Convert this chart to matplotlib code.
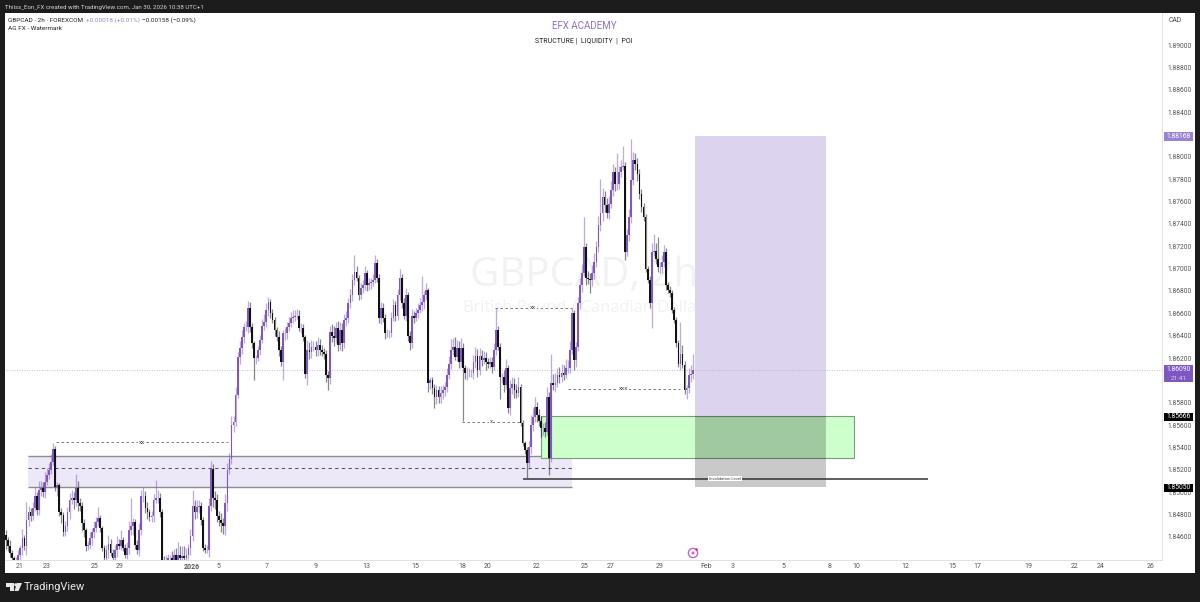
import numpy as np
import matplotlib
matplotlib.use("Agg")
import matplotlib.pyplot as plt
from matplotlib.patches import Rectangle, Polygon, Ellipse

plt.rcParams['font.family'] = ['Roboto', 'DejaVu Sans']

W, H = 1200, 602
PURPLE = '#7e57c2'
BLACK = '#111111'
DARK = '#1c1c1c'

# 2h closes in 1e-4 price units, one row = 12 bars
closes = [
    18457,18452,18446,18441,18437,18439,18444,18450,18459,18452,18475,18482,
    18479,18486,18497,18484,18502,18504,18500,18509,18515,18520,18527,18539,
    18505,18506,18482,18480,18464,18470,18482,18493,18495,18493,18504,18490,
    18488,18472,18466,18452,18453,18459,18464,18468,18473,18477,18468,18450,
    18441,18448,18454,18446,18441,18448,18454,18452,18457,18450,18444,18450,
    18466,18470,18473,18453,18448,18466,18497,18497,18486,18482,18478,18479,
    18493,18495,18495,18482,18439,18437,18439,18441,18441,18439,18444,18439,
    18444,18441,18443,18441,18444,18450,18461,18488,18482,18487,18488,18475,
    18450,18448,18448,18488,18521,18495,18493,18479,18475,18472,18470,18490,
    18520,18530,18560,18563,18587,18621,18629,18639,18648,18648,18665,18648,
    18633,18620,18620,18627,18636,18649,18652,18663,18670,18660,18654,18645,
    18639,18627,18616,18642,18642,18648,18651,18656,18657,18658,18658,18647,
    18647,18639,18606,18627,18625,18630,18630,18627,18632,18627,18625,18624,
    18605,18602,18643,18640,18638,18647,18632,18645,18633,18654,18656,18669,
    18676,18690,18697,18692,18676,18683,18685,18696,18685,18687,18688,18690,
    18705,18692,18656,18665,18656,18642,18642,18642,18656,18667,18658,18676,
    18692,18669,18658,18676,18640,18633,18658,18656,18660,18663,18667,18670,
    18676,18681,18598,18600,18593,18585,18591,18585,18589,18591,18594,18605,
    18615,18627,18630,18621,18629,18616,18629,18611,18607,18607,18607,18607,
    18616,18622,18609,18622,18618,18620,18616,18615,18616,18612,18627,18645,
    18630,18603,18603,18596,18611,18575,18593,18597,18591,18589,18594,18562,
    18544,18538,18526,18540,18560,18567,18576,18569,18564,18557,18557,18554,
    18585,18531,18598,18596,18598,18605,18603,18607,18605,18611,18611,18627,
    18660,18618,18630,18669,18685,18696,18719,18692,18691,18690,18696,18706,
    18719,18739,18750,18764,18757,18750,18758,18770,18786,18776,18776,18786,
    18791,18792,18715,18730,18746,18779,18797,18794,18785,18767,18755,18746,
    18700,18690,18669,18715,18716,18709,18701,18701,18706,18715,18685,18681,
    18678,18663,18654,18633,18615,18624,18614,18591,18593,18605,18606,18609,
]
upper_wick = [
    4,3,5,2,2,3,4,3,8,3,16,6,
    4,5,8,3,8,6,5,9,7,6,7,5,
    2,3,2,4,2,4,5,6,7,5,12,6,
    5,3,4,2,3,5,4,6,5,10,3,2,
    3,5,8,4,3,5,7,4,9,3,4,5,
    8,25,4,3,4,6,5,8,4,5,3,4,
    5,16,7,4,3,4,5,4,3,6,5,6,
    11,8,9,9,6,4,6,14,5,6,5,3,
    3,4,5,7,7,4,6,5,4,6,5,8,
    6,5,8,5,7,4,6,6,3,5,6,5,
    3,2,3,4,5,6,7,6,5,3,4,3,
    3,5,4,3,5,4,6,5,6,5,6,5,
    4,3,2,9,7,6,5,5,7,5,5,4,
    3,3,6,7,9,5,6,7,6,5,6,5,
    6,5,15,5,2,4,5,6,3,5,4,5,
    7,4,3,5,4,3,4,3,5,6,4,6,
    8,3,5,7,3,4,6,4,5,6,7,23,
    4,6,2,3,3,4,5,4,6,5,5,6,
    7,10,8,9,7,6,9,4,3,5,4,3,
    7,8,6,7,5,6,5,4,5,5,6,20,
    4,3,4,6,8,3,7,6,5,6,9,3,
    3,2,2,6,9,8,9,5,5,4,5,6,
    9,5,26,8,9,6,7,8,7,8,7,8,
    5,3,4,6,7,8,27,4,6,5,7,8,
    6,8,30,8,5,6,7,8,8,5,27,6,
    6,18,3,5,7,37,7,6,5,4,4,4,
    3,2,3,8,15,7,19,5,6,6,3,3,
    3,3,3,3,3,28,8,3,3,6,8,15,
]
lower_wick = [
    8,5,4,3,2,2,3,5,6,4,8,5,
    5,4,3,4,4,5,4,5,3,3,4,3,
    4,8,3,8,3,3,5,6,4,8,5,7,
    5,7,6,5,4,4,6,5,4,3,4,3,
    3,6,7,3,3,5,6,3,4,3,3,4,
    5,4,8,4,3,5,4,6,5,6,4,5,
    6,3,5,4,2,2,2,2,2,2,3,2,
    2,3,2,3,3,4,6,5,6,5,6,4,
    3,2,2,6,5,8,8,6,5,8,7,8,
    7,4,5,6,4,3,6,5,6,4,6,5,
    4,20,5,3,4,3,4,4,5,4,3,5,
    4,5,3,16,6,5,4,3,5,4,3,3,
    5,4,4,10,6,5,4,5,5,4,3,5,
    6,11,5,6,7,5,6,5,7,4,5,5,
    4,5,5,3,4,3,5,4,5,4,5,4,
    3,4,5,6,4,5,3,4,3,3,5,4,
    4,4,3,5,5,6,4,5,3,4,3,5,
    6,4,8,6,5,10,6,5,5,6,5,4,
    4,5,4,3,4,5,4,47,6,7,4,4,
    6,5,6,4,5,3,7,4,4,5,3,4,
    3,20,5,6,4,4,6,5,7,5,4,3,
    3,4,13,5,6,5,4,6,5,8,6,5,
    3,16,4,5,6,4,5,4,5,3,4,4,
    3,9,6,4,5,6,3,7,5,12,6,5,
    5,4,5,7,6,5,6,4,5,7,6,5,
    4,3,7,4,5,5,4,6,7,5,4,3,
    3,3,4,22,4,5,4,6,5,5,4,3,
    3,3,3,3,3,6,3,3,8,4,6,5,
]
first_open = 18462

# time axis
tick_labels = ['21','23','25','29','2026','5','7','9','13','15','18','20','22','25','27','29',
               'Feb','3','5','8','10','12','15','17','19','22','24','26']
tick_bars = [6.8,20,43,55.6,90.7,103.4,127.3,151.2,175.6,199.5,222.4,235.1,259,282,295,319,
             341.5,354.6,379,401.5,414.6,438.5,461.5,474,498.5,521.5,534,558.5]
# 1.882 and 1.860 sit under the price tags in the screenshot
price_ticks = [1.846,1.848,1.850,1.852,1.854,1.856,1.858,1.862,1.864,1.866,1.868,1.870,
               1.872,1.874,1.876,1.878,1.880,1.884,1.886,1.888,1.890]

# drawn levels
zone_top, zone_mid, zone_bottom = 1.8532, 1.8522, 1.85045
green_top, green_bottom = 1.8568, 1.85305
box_top, box_mid, box_bottom = 1.8819, 1.8568, 1.85045
invalidation = 1.8512
last_price = 1.8609
level_lines = [(56, 228, 1.85445, 'xx'), (462, 520, 1.8563, 'x'), (495, 572, 1.8665, 'xx'), (568, 680, 1.85925, 'xxx')]


def bx(px):
    # pixel column of the screenshot to bar number
    return (px - 6) / 2.05


fig = plt.figure(figsize=(W / 100, H / 100), dpi=100, facecolor=DARK)
ax = fig.add_axes([5 / W, 1 - 560 / H, (1162 - 5) / W, (560 - 13) / H], facecolor='white')
fig.add_artist(Rectangle((5 / W, 1 - 573 / H), (1195 - 5) / W, (573 - 13) / H, transform=fig.transFigure,
                         facecolor='white', edgecolor='none', zorder=-1))

c = np.array(closes) / 1e4
o = np.r_[first_open / 1e4, c[:-1]]
top = np.maximum(o, c)
bot = np.minimum(o, c)
high = top + np.array(upper_wick) / 1e4
low = bot - np.array(lower_wick) / 1e4
idx = np.arange(len(c))
colors = np.where(c >= o, PURPLE, BLACK)

# watermark
ax.text(bx(584), 1.8694, 'GBPCAD, 2h', color='#f2f2f2', fontsize=29, ha='center', va='center', family='Open Sans', zorder=0.5)
ax.text(bx(583), 1.86645, 'British Pound / Canadian Dollar', color='#f2f2f2', fontsize=11.8, ha='center', va='center',
        family='Open Sans', zorder=0.5)

# boxes
ax.add_patch(Rectangle((bx(28), zone_bottom), bx(572) - bx(28), zone_top - zone_bottom, facecolor='#ede8f7', edgecolor='none', zorder=1))
ax.hlines([zone_top, zone_bottom], bx(28), bx(572), color='#8c8c8c', lw=1, zorder=1.2)
ax.hlines(zone_mid, bx(28), bx(572), color='#333333', lw=0.6, linestyles=(0, (4, 4)), zorder=1.2)
ax.add_patch(Rectangle((bx(541), green_bottom), bx(854) - bx(541), green_top - green_bottom, facecolor='#ccffcc', edgecolor='#7f9a7f', lw=0.8, zorder=1.4))
ax.add_patch(Rectangle((bx(695), box_mid), bx(826) - bx(695), box_top - box_mid, facecolor='#dcd3ee', edgecolor='none', zorder=1.3))
ax.add_patch(Rectangle((bx(695), box_bottom), bx(826) - bx(695), box_mid - box_bottom, facecolor='black', alpha=0.21, edgecolor='none', zorder=1.5))

ax.hlines(last_price, -1, 564, color='#b9a6e0', lw=0.6, linestyles=(0, (1, 2)), zorder=1.6)

# candles
ax.vlines(idx, low, high, colors=colors, lw=0.9, alpha=0.5, zorder=2)
ax.bar(idx, top - bot, bottom=bot, width=0.85, color=colors, linewidth=0, zorder=3)

# marked levels
dash = (0, (3, 3))
for x0, x1, level, lab in level_lines:
    ax.hlines(level, bx(x0), bx(x1), color='#666666', lw=0.6, linestyles=dash, zorder=3.2)
    ax.text(bx((x0 + x1) / 2), level, lab, fontsize=4.5, color='#444444', ha='center', va='center', zorder=3.3,
            bbox=dict(facecolor='white', edgecolor='none', pad=0.6))
ax.hlines(invalidation, bx(523), bx(928), color='#333333', lw=1.1, zorder=3.4)
ax.text(bx(725), invalidation, 'Invalidation Level', fontsize=3, color='#444444', ha='center', va='center', zorder=3.5,
        bbox=dict(facecolor='white', edgecolor='none', pad=0.5))

ax.set_xlim(bx(5), bx(1162))
ax.set_ylim(1.89 - 515 * 8.945e-5, 1.89 + 32 * 8.945e-5)
ax.set_xticks(tick_bars)
ax.set_xticklabels(tick_labels, fontsize=5, color='#555555')
ax.get_xticklabels()[4].set_fontweight('bold')
ax.set_yticks(price_ticks)
ax.set_yticklabels(['%.5f' % p for p in price_ticks], fontsize=4.9, color='#555555', ha='left')
ax.yaxis.tick_right()
ax.tick_params(axis='x', length=0, pad=2.5)
ax.tick_params(axis='y', length=0, pad=4.3)
for side in ['top', 'left']:
    ax.spines[side].set_visible(False)
for side in ['right', 'bottom']:
    ax.spines[side].set_color('#dddddd')
    ax.spines[side].set_linewidth(0.6)


def price_tag(py, h, bg):
    fig.add_artist(Rectangle((1164 / W, 1 - (py + h / 2) / H), 29 / W, h / H, transform=fig.transFigure,
                             facecolor=bg, edgecolor='none', zorder=5))
    return 1 - py / H


fig.text(1179 / W, price_tag(136.5, 9, '#9c82d4'), '1.88168', fontsize=4.9, color='white', ha='center', va='center', zorder=6)
price_tag(373.5, 17, PURPLE)
fig.text(1179 / W, 1 - 369.5 / H, '1.86090', fontsize=4.9, color='white', ha='center', va='center', zorder=6)
fig.text(1179 / W, 1 - 378 / H, '21:41', fontsize=4.6, color='#d8cdf0', ha='center', va='center', zorder=6)
fig.text(1179 / W, price_tag(417, 8, 'black'), '1.85666', fontsize=4.9, color='white', ha='center', va='center', zorder=6)
fig.text(1179 / W, price_tag(487.5, 8, 'black'), '1.85050', fontsize=4.9, color='white', ha='center', va='center', zorder=6)

# header
fig.text(5 / W, 1 - 7 / H, 'Thiiss_Eon_FX created with TradingView.com, Jan 30, 2026 10:38 UTC+1', fontsize=4.45, color='#d6d6d6', va='center')
fig.text(8 / W, 1 - 20.5 / H, 'GBPCAD · 2h · FOREXCOM', fontsize=4.6, color='#222222', va='center')
fig.text(86 / W, 1 - 20.5 / H, '+0.00018 (+0.01%)', fontsize=4.6, color='#9c82d4', va='center')
fig.text(142 / W, 1 - 20.5 / H, '−0.00158 (−0.09%)', fontsize=4.6, color='#222222', va='center')
fig.text(8 / W, 1 - 29 / H, 'AG FX - Watermark', fontsize=4.6, color='#222222', va='center')
fig.text(584 / W, 1 - 26 / H, 'EFX ACADEMY', fontsize=7, color='#8e6fd0', ha='center', va='center')
fig.text(584 / W, 1 - 40.5 / H, 'STRUCTURE |  LIQUIDITY  |  POI', fontsize=5, color='#222222', ha='center', va='center')
fig.text(1175 / W, 1 - 21 / H, 'CAD', fontsize=4.9, color='#444444', ha='center', va='center')


def dot(px, py, r, **kw):
    fig.add_artist(Ellipse((px / W, 1 - py / H), 2 * r / W, 2 * r / H, transform=fig.transFigure, **kw))


# lightning marker
dot(693, 553, 4.6, facecolor='white', edgecolor='#c266d6', lw=1, zorder=6)
dot(693, 553, 1.5, facecolor='#c266d6', edgecolor='none', zorder=6)
dot(696.5, 549.5, 1.2, facecolor='#f02020', edgecolor='none', zorder=7)

# TradingView logo
for pts in [[(6, 583), (14, 583), (14, 591), (10, 591), (10, 587), (6, 587)],
            [(17, 583), (22, 583), (18.5, 591), (14.5, 591)]]:
    fig.add_artist(Polygon([(x / W, 1 - y / H) for x, y in pts], transform=fig.transFigure, facecolor='#e8e8e8', edgecolor='none'))
dot(15.8, 584.8, 1.6, facecolor='#e8e8e8', edgecolor='none')
fig.text(24 / W, 1 - 587.5 / H, 'TradingView', fontsize=7.9, color='#e8e8e8', va='center')

fig.savefig('out.png', dpi=100, facecolor=DARK)
